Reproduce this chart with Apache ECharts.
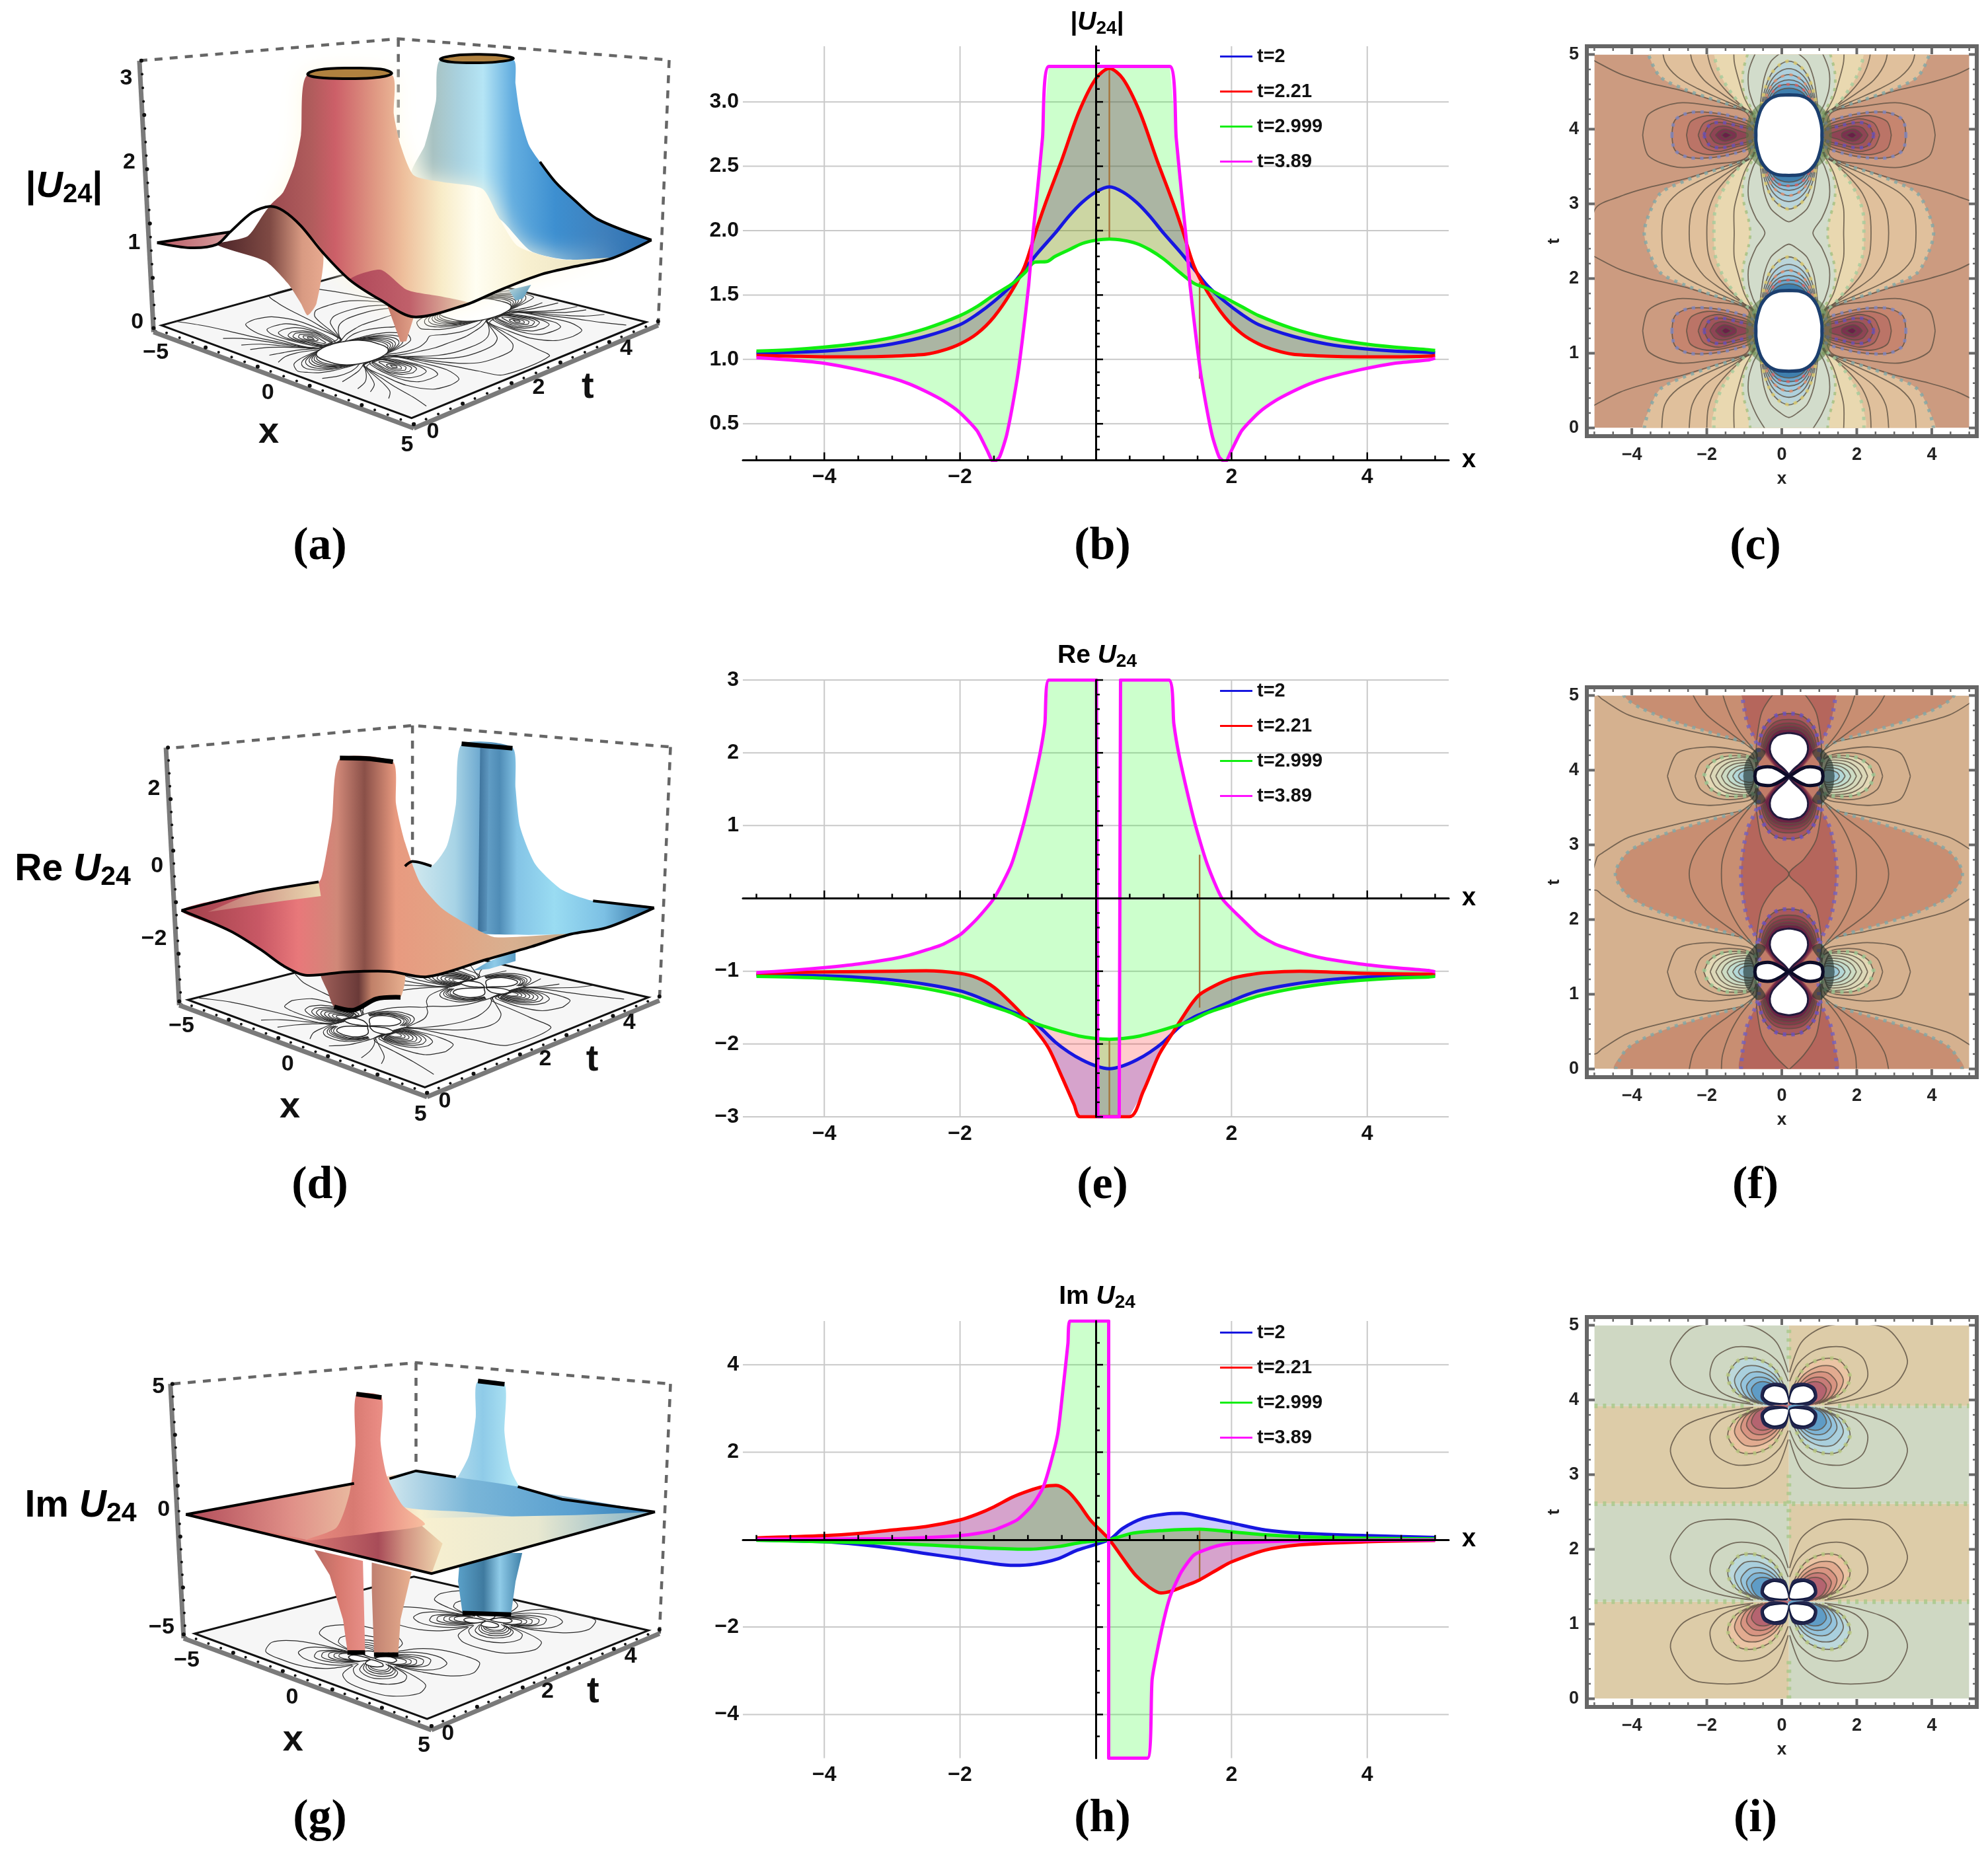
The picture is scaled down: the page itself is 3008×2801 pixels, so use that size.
<!DOCTYPE html>
<html><head><meta charset="utf-8"><style>html,body{margin:0;padding:0;background:#fff}#c{width:3008px;height:2801px}</style>
<script src="https://cdn.jsdelivr.net/npm/echarts@6/dist/echarts.min.js"></script></head><body><div id="c"></div>
<script>
// ---------- line-profile panels (x, value) ----------
const seriesNames=['t=2','t=2.21','t=2.999','t=3.89'];
const seriesColors=['#1717e0','#ff0000','#10ee10','#ff10ff'];
const xMajorLabels=[-4,-2,2,4];
const xMinorTicks=[-5,-4.5,-4,-3.5,-3,-2.5,-2,-1.5,-1,-.5,.5,1,1.5,2,2.5,3,3.5,4,4.5,5];

const bBlue=[[-5,1.05],[-4.5,1.055],[-4,1.065],[-3.5,1.085],[-3,1.12],[-2.5,1.18],[-2,1.27],[-1.75,1.35],[-1.5,1.45],[-1.25,1.57],[-1.05,1.7],[-.85,1.83],[-.6,1.98],[-.4,2.11],[-.2,2.22],[0,2.3],[.2,2.34],[.4,2.3],[.6,2.22],[.8,2.11],[1,1.98],[1.25,1.83],[1.45,1.7],[1.65,1.57],[1.9,1.45],[2.15,1.35],[2.4,1.27],[2.9,1.18],[3.4,1.12],[3.9,1.085],[4.4,1.065],[4.9,1.055],[5,1.05]];
const bRed=[[-5,1.03],[-4.5,1.025],[-4,1.02],[-3.5,1.02],[-3,1.025],[-2.5,1.04],[-2.25,1.07],[-2,1.12],[-1.75,1.2],[-1.5,1.33],[-1.25,1.52],[-1.05,1.72],[-.88,2.0],[-.75,2.2],[-.5,2.55],[-.25,2.92],[0,3.18],[.2,3.26],[.4,3.18],[.65,2.92],[.9,2.55],[1.15,2.2],[1.28,2.0],[1.45,1.72],[1.65,1.52],[1.9,1.33],[2.15,1.2],[2.4,1.12],[2.65,1.07],[2.9,1.04],[3.4,1.025],[3.9,1.02],[4.4,1.02],[4.9,1.025],[5,1.03]];
const bGreen=[[-5,1.065],[-4.5,1.075],[-4,1.095],[-3.5,1.125],[-3,1.17],[-2.5,1.24],[-2,1.34],[-1.75,1.41],[-1.5,1.5],[-1.25,1.58],[-1.05,1.67],[-.9,1.755],[-.72,1.76],[-.6,1.8],[-.4,1.85],[-.2,1.9],[0,1.925],[.2,1.935],[.4,1.925],[.6,1.9],[.8,1.85],[1,1.78],[1.25,1.67],[1.45,1.59],[1.65,1.55],[1.9,1.48],[2.15,1.41],[2.4,1.34],[2.9,1.24],[3.4,1.17],[3.9,1.125],[4.4,1.095],[4.9,1.075],[5,1.07]];
const bMagenta=[[-5,1.013],[-4.5,.995],[-4,.97],[-3.5,.92],[-3,.855],[-2.75,.81],[-2.5,.75],[-2.25,.68],[-2,.586],[-1.75,.446],[-1.6,.293],[-1.507,.203],[-1.42,.24],[-1.31,.42],[-1.157,.855],[-1.08,1.16],[-.99,1.57],[-.93,1.95],[-.86,2.31],[-.785,2.72],[-.69,3.275],[1.09,3.275],[1.185,2.72],[1.26,2.31],[1.33,1.95],[1.39,1.57],[1.48,1.16],[1.557,.855],[1.71,.42],[1.82,.24],[1.907,.203],[2,.293],[2.15,.446],[2.4,.586],[2.65,.68],[2.9,.75],[3.15,.81],[3.4,.855],[3.9,.92],[4.4,.97],[4.9,.995],[5,1.01]];
const bBrown=[[[-.69,3.275],[1.09,3.275]],[[.2,3.26],[.2,1.935]],[[1.53,.85],[1.53,1.6]]];

const eBlue=[[-5,-1.05],[-4.5,-1.055],[-4,-1.065],[-3.5,-1.085],[-3,-1.12],[-2.5,-1.18],[-2,-1.27],[-1.75,-1.35],[-1.5,-1.45],[-1.25,-1.55],[-1.05,-1.63],[-.85,-1.75],[-.6,-1.97],[-.4,-2.11],[-.2,-2.22],[0,-2.3],[.2,-2.34],[.4,-2.3],[.6,-2.22],[.8,-2.11],[1,-1.97],[1.25,-1.75],[1.45,-1.63],[1.65,-1.55],[1.9,-1.45],[2.15,-1.35],[2.4,-1.27],[2.9,-1.18],[3.4,-1.12],[3.9,-1.085],[4.4,-1.065],[5,-1.05]];
const eRed=[[-5,-1.04],[-4.5,-1.02],[-4,-1.01],[-3,-1],[-2.5,-.995],[-2,-1.03],[-1.75,-1.09],[-1.5,-1.22],[-1.23,-1.45],[-1,-1.68],[-.785,-1.93],[-.67,-2.1],[-.49,-2.47],[-.32,-2.83],[-.23,-3],[.495,-3],[.7,-2.65],[.93,-2.15],[1.11,-1.88],[1.26,-1.66],[1.41,-1.45],[1.53,-1.32],[1.75,-1.2],[2,-1.1],[2.25,-1.05],[2.5,-1.02],[3,-1],[4,-1.03],[5,-1.04]];
const eGreen=[[-5,-1.07],[-4.5,-1.08],[-4,-1.095],[-3.5,-1.125],[-3,-1.17],[-2.5,-1.24],[-2,-1.34],[-1.5,-1.49],[-1.25,-1.57],[-1,-1.68],[-.75,-1.76],[-.5,-1.83],[-.25,-1.89],[0,-1.925],[.2,-1.935],[.4,-1.925],[.65,-1.89],[.9,-1.83],[1.15,-1.76],[1.4,-1.68],[1.65,-1.57],[1.9,-1.49],[2.4,-1.34],[2.9,-1.24],[3.4,-1.17],[3.9,-1.125],[4.4,-1.095],[4.9,-1.08],[5,-1.07]];
const eMagenta=[[-5,-1.02],[-4.5,-.99],[-4,-.95],[-3.5,-.9],[-3,-.83],[-2.75,-.78],[-2.5,-.71],[-2.25,-.63],[-2,-.5],[-1.75,-.28],[-1.5,0],[-1.25,.45],[-1.07,1],[-.95,1.45],[-.82,2],[-.75,2.4],[-.69,3],[.01,3],[.03,-3],[.345,-3],[.365,3],[1.075,3],[1.15,2.4],[1.22,2],[1.35,1.45],[1.47,1],[1.65,.45],[1.86,0],[2.15,-.28],[2.4,-.5],[2.65,-.63],[2.9,-.71],[3.15,-.78],[3.4,-.83],[3.9,-.9],[4.4,-.95],[4.9,-.99],[5,-1.01]];
const eBrown=[[[-.69,3],[.01,3]],[[.365,3],[1.075,3]],[[.03,-3],[.345,-3]],[[.2,-1.935],[.2,-3]],[[1.53,.6],[1.53,-1.5]]];

const hBlue=[[-5,-.01],[-4,-.05],[-3.5,-.11],[-3,-.2],[-2.5,-.32],[-2,-.43],[-1.5,-.55],[-1.2,-.59],[-.9,-.56],[-.56,-.44],[-.27,-.24],[.2,0],[.4,.26],[.7,.49],[1,.58],[1.26,.6],[1.53,.53],[2,.38],[2.5,.22],[3,.15],[4,.09],[5,.05]];
const hRed=[[-5,.04],[-4,.09],[-3.5,.14],[-3,.22],[-2.5,.3],[-2,.45],[-1.75,.58],[-1.5,.75],[-1.23,.97],[-1,1.11],[-.785,1.21],[-.585,1.24],[-.415,1.11],[-.26,.84],[-.08,.45],[.2,0],[.4,-.43],[.59,-.82],[.78,-1.08],[.96,-1.22],[1.11,-1.18],[1.33,-1.05],[1.53,-.92],[1.82,-.66],[2,-.51],[2.5,-.24],[3,-.12],[4,-.05],[5,-.02]];
const hGreen=[[-5,-.015],[-4,-.05],[-3,-.085],[-2,-.16],[-1.5,-.2],[-1,-.22],[-.56,-.16],[-.19,-.06],[.2,0],[.55,.15],[1,.21],[1.53,.24],[2,.18],[2.5,.11],[3,.07],[4,.03],[5,.015]];
const hMagenta=[[-5,.01],[-4,.012],[-3,.02],[-2.5,.045],[-2,.09],[-1.75,.14],[-1.5,.22],[-1.16,.45],[-.93,.8],[-.78,1.18],[-.67,1.72],[-.56,2.42],[-.49,3.34],[-.41,4.49],[-.38,5],[.19,5],[.19,-5],[.76,-5],[.83,-3.2],[.92,-2.43],[1.03,-1.66],[1.11,-1.24],[1.26,-.74],[1.45,-.35],[1.75,-.16],[2,-.085],[2.5,-.05],[3,-.03],[4,-.015],[5,-.01]];
const hBrown=[[[-.38,5],[.19,5]],[[.19,-5],[.76,-5]],[[1.53,.24],[1.53,-.92]]];

// ---------- contour panels: hand-read level curves, u=|x-x0|, v=|t-mid|, dv=|t-tc| ----------
const x0=.19, mid=2.61, centres=[1.3,3.92];
const tickMajorT=[0,1,2,3,4,5];
const cStrip={A:[[3.86,0],[3.74,.24],[3.43,.53],[2.81,.69],[2.04,.83],[1.42,.93],[.95,1.05]],
 L0:[[5.3,.28],[5.17,.32],[4.5,.49],[3.74,.61],[2.81,.72],[2.04,.84],[1.42,.94],[.95,1.06]],
 B:[[3.39,0],[3.31,.32],[2.97,.53],[2.42,.69],[1.8,.83],[1.26,.95],[.95,1.05]],
 C:[[2.66,0],[2.58,.32],[2.27,.57],[1.8,.75],[1.26,.93],[.93,1.05]],
 D:[[2.19,0],[2.15,.28],[1.96,.53],[1.65,.73],[1.19,.95],[.92,1.06]],
 E:[[2,0],[1.975,.28],[1.8,.53],[1.53,.75],[1.15,.98],[.92,1.07]],
 F:[[1.46,0],[1.46,.32],[1.34,.57],[1.19,.81],[.99,1],[.9,1.07]],
 G:[[1.03,0],[1.07,.16],[1.22,.45],[1.22,.69],[1.07,.89],[.88,1.06]],
 H:[[.64,0],[.88,.2],[1.07,.45],[1.07,.69],[.95,.89],[.81,1.04]]};
const cArcs=[[[0,.15],[.25,.22],[.49,.33],[.66,.55],[.74,.8],[.78,1]],
 [[0,.32],[.25,.37],[.47,.49],[.63,.68],[.72,.88],[.76,1.02]],
 [[0,.42],[.25,.46],[.45,.56],[.6,.72],[.7,.9],[.74,1.02]],
 [[0,.5],[.25,.54],[.43,.62],[.58,.76],[.68,.93],[.72,1.02]],
 [[0,.57],[.25,.6],[.42,.67],[.56,.79],[.66,.94],[.7,1.02]],
 [[0,.63],[.25,.65],[.4,.71],[.54,.82],[.64,.95]],
 [[0,.68],[.22,.7],[.38,.75],[.5,.84],[.6,.96]]];
const cArcFill=[null,'#bbd5da','#aed0dd','#9fcbe0','#8fc0dd','#6aa5cc','#3f7fae'];
const cLobes=[[[3.9,0],[3.74,.28],[2.97,.43],[2.04,.39],[1.1,.28]],
 [[3.12,0],[3.04,.2],[2.66,.3],[2.04,.3],[1.42,.24],[.95,.14]],
 [[2.73,0],[2.62,.18],[2.19,.26],[1.57,.22],[1.03,.12]],
 [[2.42,0],[2.27,.16],[1.88,.22],[1.42,.16],[.95,.08]],
 [[2.27,0],[2.11,.14],[1.8,.17],[1.34,.12],[.95,.06]],
 [[2.11,0],[1.96,.1],[1.69,.12],[1.34,.06],[1.1,.02]],
 [[1.96,0],[1.84,.06],[1.69,.08],[1.42,.03]],
 [[1.8,0],[1.69,.04],[1.53,0]]];
const cLobeFill=[null,'#c6856f','#bb7467','#ae6360','#a0555b','#8f4455','#7c3150','#6a1f48'];
const cHole=[[0,.54],[.3,.53],[.55,.47],[.74,.35],[.84,.2],[.88,.08],[.88,0]];

const fStrip={outer:[[5.3,.2],[5.12,.22],[4.98,.28],[4.28,.49],[3.12,.65],[2.04,.77],[1.1,.87],[.85,.98]],
 R1:[[4.63,0],[4.36,.26],[3.9,.41],[3.12,.57],[2.19,.71],[1.26,.85],[.88,.97]],
 in1:[[2.66,0],[2.54,.24],[2.19,.49],[1.57,.73],[1.03,.93],[.85,1.02]],
 in2:[[1.8,0],[1.77,.2],[1.57,.49],[1.3,.73],[.95,.95],[.85,1.02]],
 R2:[[1.28,0],[1.22,.32],[1.1,.61],[.88,.85],[.8,1]],
 X:[[0,0],[.4,.2],[.72,.45],[.84,.75],[.87,.93]]};
const fArcs=[[[0,.47],[.3,.49],[.55,.58],[.72,.72],[.8,.9]],
 [[0,.55],[.3,.57],[.5,.64],[.66,.76],[.74,.92]],
 [[0,.6],[.28,.62],[.48,.68],[.62,.79],[.7,.93]],
 [[0,.64],[.26,.66],[.46,.71],[.6,.81],[.68,.94]],
 [[0,.68],[.25,.69],[.42,.74],[.56,.84],[.64,.95]]];
const fArcFill=['#a85a5c','#944650','#863a4a','#7a3048','#6a2444'];
const fLobes=[[[3.24,0],[2.97,.31],[2.19,.39],[1.5,.36],[.95,.28]],
 [[2.5,0],[2.35,.18],[1.88,.3],[1.26,.3],[.95,.22]],
 [[2.27,0],[2.11,.16],[1.73,.26],[1.1,.26],[.9,.2]],
 [[2.1,0],[1.95,.14],[1.6,.23],[1.05,.22]],
 [[1.95,0],[1.8,.12],[1.5,.2],[1.02,.19]],
 [[1.8,0],[1.68,.1],[1.4,.17],[1,.16]],
 [[1.65,0],[1.55,.08],[1.3,.14],[.98,.13]],
 [[1.5,0],[1.4,.07],[1.2,.11],[.96,.1]],
 [[1.35,0],[1.28,.05],[1.1,.08],[.95,.07]]];
const fLobeFill=[null,null,'#e3d8b5','#dcd8b8','#d6dabc','#cddcc4','#c2dcce','#b4d8d8','#9cc8d8'];
const fHaze=[[1.22,0],[1.16,.18],[1,.3],[.82,.38],[.62,.32],[.85,.14],[.95,0]];
const fPetalV=[[0,.02],[.12,.09],[.3,.17],[.45,.26],[.51,.36],[.47,.46],[.33,.54],[.15,.57],[0,.58]];
const fPetalH=[[.03,0],[.2,.06],[.45,.12],[.7,.12],[.87,.08],[.91,0]];

const iRows=[[0,1.3],[1.3,2.61],[2.61,3.92],[3.92,5]];
const iRings=[[[.02,.45],[.33,.85],[.95,1.06],[1.88,1.1],[2.66,1.02],[3.16,.61],[2.81,.28],[1.88,.1],[.95,.02]],
 [[.02,.33],[.25,.57],[.72,.75],[1.42,.79],[1.96,.65],[2.1,.39],[1.8,.18],[1.03,.04]],
 [[.1,.24],[.41,.51],[.88,.63],[1.34,.61],[1.63,.39],[1.42,.18],[.88,.04]],
 [[.1,.2],[.4,.42],[.8,.53],[1.2,.52],[1.45,.35],[1.28,.16],[.8,.03]],
 [[.12,.17],[.4,.36],[.72,.45],[1.05,.44],[1.28,.3],[1.14,.13],[.75,.03]],
 [[.14,.14],[.38,.3],[.66,.38],[.95,.37],[1.13,.26],[1,.11],[.7,.02]],
 [[.15,.12],[.37,.26],[.6,.32],[.85,.31],[1,.22],[.88,.09],[.6,.02]]];
const iBlueFill=[null,null,'#bcd8db','#a9cfdd','#95c4dd','#7fb5d6','#5f9cc6'];
const iOrangeFill=[null,null,'#ebc4a4','#e2ab90','#d89482','#c87c78','#b56470'];
const iHaze=[[.02,.03],[.5,0],[.75,.1],[.69,.25],[.42,.31],[.12,.29],[.02,.18]];
const iPetal=[[.03,.04],[.5,.05],[.68,.12],[.62,.22],[.4,.27],[.15,.24],[.04,.15]];
const iDotV=[[0,.55],[2.15,3.05],[4.55,5]];
const iDotH=[[1.3,-5,-1.0],[1.3,1.5,5],[2.61,-5,5],[3.92,-5,-1.0],[3.92,1.5,5]];

// ---------- 3-D panels: picture-space outlines (panel scale 0..1568 on each side) ----------
const G=(...s)=>({stops:s});
const panelA={crop:[0,800],
 dashed:[[[315,180],[900,115],[1512,178]],[[900,115],[900,420]],[[1512,178],[1487,965]]],
 axes:[[[315,180],[347,985]],[[347,985],[935,1270]],[[935,1270],[1487,965]]],
 floor:[[365,965],[930,1240],[1460,955],[895,772]],
 polys:[
 {p:[[1150,860],[1165,892],[1182,885],[1200,845]],f:G([0,'#7fb6d0'],[1,'#4f93b8'])},
 {p:[[995,178],[1160,178],[1165,250],[1175,340],[1195,430],[1220,480],[1255,540],[1295,590],[1350,650],[1400,680],[1472,712],[1390,762],[1280,770],[1200,745],[1130,650],[1050,600],[930,520],[960,430],[985,300]],f:G([0,'#dfe9e0'],[.09,'#a8c2c2'],[.2,'#a9d2e0'],[.3,'#b5e5f5'],[.42,'#64aee0'],[.6,'#3d8fd0'],[.8,'#3f80bc'],[1,'#2c6fb0'])},
 {p:[[610,612],[640,570],[665,490],[680,400],[695,222],[885,222],[890,340],[905,430],[935,520],[1000,540],[1090,560],[1125,640],[1170,730],[1270,770],[1385,765],[1300,790],[1220,815],[1130,860],[1050,905],[935,940],[860,890],[790,830],[730,750],[680,670],[640,625]],f:G([0,'#9b4a50'],[.12,'#b05c5c'],[.19,'#cc5f68'],[.31,'#e09a84'],[.39,'#eebf9c'],[.5,'#f8ecc8'],[.6,'#fffef2'],[.75,'#f8f0d0'],[1,'#e8e0c0']),blur:34,shadow:'rgba(255,250,228,.95)'},
 {p:[[790,830],[860,800],[920,860],[1000,880],[1060,900],[935,940],[860,890]],f:G([0,'#b0485a'],[.5,'#c0606a'],[1,'#e8d0b0'])},
 {p:[[490,725],[560,700],[610,612],[640,625],[680,670],[730,750],[715,900],[695,935],[680,900],[650,840],[600,775]],f:G([0,'#4c2428'],[.5,'#7f4a44'],[.8,'#d89a82'],[1,'#e8aa90'])},
 {p:[[355,720],[430,705],[520,688],[490,725],[430,735]],f:G([0,'#b85a64'],[1,'#d8a0a0'])},
 {p:[[875,905],[905,1015],[918,1012],[935,940]],f:G([0,'#c47868'],[1,'#e0a088'])}],
 caps:[[[695,220],[720,207],[790,202],[860,205],[885,218],[850,230],[790,233],[720,230]],[[995,175],[1030,164],[1080,161],[1130,164],[1160,174],[1120,184],[1070,186],[1020,184]]],
 edges:[[[355,720],[430,735],[490,725],[520,688],[570,630],[610,612],[640,625],[680,670],[730,750],[790,830],[860,890],[935,940],[1050,905],[1130,860],[1220,815],[1300,790],[1385,765],[1472,712]],[[355,720],[430,705],[520,688]],[[1472,712],[1350,650],[1295,590],[1255,540],[1220,480]]],
 edgeSmooth:.3,
 texts:[['3',285,232,34],['2',292,482,34],['1',303,720,34],['0',310,955,34],['−5',352,1045,34],['0',605,1165,34],['5',920,1320,34],['0',978,1282,34],['2',1217,1150,34],['4',1415,1035,34],['x',607,1282,56],['t',1328,1150,56]]};
const panelD={crop:[1050,750],
 dashed:[[[398,170],[932,100],[1515,168]],[[932,100],[932,530]],[[1515,168],[1490,970]]],
 axes:[[[375,170],[405,985]],[[405,985],[965,1275]],[[965,1275],[1490,970]]],
 floor:[[425,968],[960,1245],[1465,960],[925,790]],
 polys:[
 {p:[[1100,850],[1165,810],[1165,845],[1105,870],[1070,875]],f:G([0,'#5a9cc4'],[.5,'#8fcbe8'],[1,'#5a9cc4'])},
 {p:[[1043,160],[1158,170],[1165,300],[1175,420],[1210,540],[1270,620],[1340,655],[1478,677],[1370,740],[1290,760],[1100,760],[1030,740],[960,680],[915,545],[932,530],[975,545],[1010,480],[1030,350]],f:G([0,'#d8ecf0'],[.2,'#a8d4e6'],[.3,'#6faad0'],[.38,'#4f8cb6'],[.45,'#84c4e6'],[.6,'#9adcf2'],[.8,'#7cc0e4'],[1,'#2f6f9f'])},
 {p:[[1085,170],[1105,170],[1100,750],[1080,755]],f:G([0,'#3a6f98'],[1,'#5f98c0'])},
 {p:[[725,885],[780,880],[880,878],[915,890],[905,960],[880,955],[850,965],[800,1000],[755,990],[740,940]],f:G([0,'#a0605a'],[.45,'#6a3a38'],[.6,'#c08068'],[1,'#e8b090'])},
 {p:[[410,685],[570,630],[720,595],[730,560],[750,400],[768,205],[888,215],[895,350],[915,470],[950,600],[1000,680],[1070,740],[1120,770],[1290,760],[1200,800],[1100,840],[965,895],[880,878],[780,880],[690,890],[640,860],[590,810],[520,750]],f:G([0,'#a0404a'],[.2,'#c85865'],[.3,'#e8787a'],[.4,'#d08878'],[.47,'#8a5048'],[.55,'#e89a80'],[.7,'#e2a585'],[.85,'#d8b090'],[1,'#c4a888'])},
 {p:[[470,690],[570,630],[720,595],[725,640],[640,655]],f:G([0,'#c07070'],[1,'#ead8b0'])}],
 caps:[],
 edges:[[[410,685],[520,750],[590,810],[640,860],[690,890],[780,880],[880,878],[965,895],[1100,840],[1200,800],[1290,760],[1370,740],[1478,677]],[[410,685],[570,630],[720,595]],[[1478,677],[1340,655]],[[915,545],[932,530],[975,545]]],
 edgeSmooth:.3,
 thick:[[[768,203],[830,205],[888,215]],[[1043,158],[1100,165],[1158,172]],[[755,990],[800,1000],[850,965],[905,960]]],
 texts:[['2',348,300,34],['0',355,545,34],['−2',348,775,34],['−5',410,1050,34],['0',650,1172,34],['5',950,1330,34],['0',1005,1290,34],['2',1232,1155,34],['4',1422,1040,34],['x',655,1307,56],['t',1338,1160,56]]};
const panelG={crop:[2020,750],
 dashed:[[[390,155],[940,88],[1515,155]],[[940,88],[940,410]],[[1515,155],[1490,945]]],
 axes:[[[385,155],[415,960]],[[415,960],[975,1250]],[[975,1250],[1490,945]]],
 floor:[[440,945],[965,1215],[1465,935],[935,765]],
 polys:[
 {p:[[710,680],[820,715],[825,1005],[785,1000],[775,900],[745,760]],f:G([0,'#b86a62'],[.5,'#d87a70'],[1,'#e89088'])},
 {p:[[840,720],[930,750],[905,900],[900,1005],[845,1005],[840,800]],f:G([0,'#c08070'],[1,'#e8b090'])},
 {p:[[1040,690],[1180,690],[1165,780],[1155,880],[1045,880],[1035,780]],f:G([0,'#5aa0c8'],[.4,'#3f7a9f'],[.65,'#8fcbe8'],[1,'#3f80a8'])},
 {p:[[1078,150],[1140,155],[1140,310],[1155,430],[1190,510],[1260,560],[980,550],[1030,460],[1060,380],[1075,260]],f:G([0,'#c8e4ee'],[.4,'#8fcbe8'],[.7,'#b8ecf8'],[1,'#5aa6d8'])},
 {p:[[420,568],[940,430],[1480,560],[975,755]],f:G([0,'#c85a62'],[.35,'#e8a890'],[.5,'#f8f0d0'],[.7,'#b8d4dc'],[1,'#3f80b8'])},
 {p:[[880,455],[940,430],[1030,450],[1170,480],[1270,520],[1480,560],[1300,590],[1050,560],[900,540]],f:G([0,'#cfe6ee'],[.3,'#7ab6d8'],[.7,'#5aa0d0'],[1,'#2f7ab5'])},
 {p:[[420,568],[800,470],[900,540],[700,650]],f:G([0,'#b04a58'],[.5,'#e09088'],[1,'#f0d8b0'])},
 {p:[[950,580],[1300,570],[1480,560],[975,755]],f:G([0,'#f8f0d0'],[.5,'#e8e8d0'],[1,'#7fb0c8'])},
 {p:[[420,568],[700,650],[950,600],[1000,660],[975,755]],f:G([0,'#c85a62'],[.4,'#e08078'],[.75,'#a84c58'],[.85,'#d09080'],[1,'#f0d8b0'])},
 {p:[[690,650],[760,610],[790,500],[803,350],[805,190],[862,195],[860,340],[875,450],[910,540],[960,600],[850,625]],f:G([0,'#e88a80'],[.4,'#d87a72'],[.6,'#e88a82'],[1,'#f8c0a0'])}],
 caps:[],
 edges:[[[420,568],[975,755],[1480,560]],[[420,568],[800,470]],[[880,455],[940,430],[1030,450]],[[1170,480],[1270,520],[1480,560]]],
 edgeSmooth:0,
 thick:[[[805,187],[862,198]],[[1080,146],[1140,156]],[[785,1005],[825,1005]],[[845,1012],[900,1012]],[[1045,880],[1155,885]]],
 texts:[['5',358,165,34],['0',370,553,34],['−5',365,925,34],['−5',422,1030,34],['0',660,1148,34],['5',958,1300,34],['0',1012,1262,34],['2',1237,1128,34],['4',1425,1018,34],['x',662,1282,56],['t',1340,1130,56]]};

// ---------- helpers ----------
const FONT='"Liberation Sans",Arial,sans-serif';
const thin={stroke:'#5d5042',lw:1.8,alpha:.8};
const dots=(c,lw)=>({stroke:c,lw:lw||5,dash:[5,8],alpha:.8});
function stripPaths(oct){
 const half=oct.concat(oct.slice().reverse().map(([u,v])=>[u,2.62-v]));
 const lower=half.map(([u,v])=>[x0-u,mid-v]).reverse();
 const upper=half.map(([u,v])=>[x0-u,mid+v]).slice(1);
 const left=lower.concat(upper), right=left.map(([x,t])=>[2*x0-x,t]);
 return {left,right,poly:left.concat(right.slice().reverse())};
}
function addStrip(L,oct,fill,style){const s=stripPaths(oct);
 if(fill)L.push({k:'poly',pts:s.poly,fill});
 if(style){L.push(Object.assign({k:'line',pts:s.left},style));L.push(Object.assign({k:'line',pts:s.right},style));}}
function addArc(L,arc,fill,style){
 [v=>mid-v,v=>mid+v,v=>v-.01,v=>5.23-v].forEach((T,idx)=>{
  const tcen=(idx==0||idx==2)?centres[0]:centres[1];
  const path=arc.slice().reverse().map(([u,v])=>[x0-u,T(v)]).concat(arc.slice(1).map(([u,v])=>[x0+u,T(v)]));
  if(fill)L.push({k:'poly',pts:path.concat([[x0,tcen]]),fill});
  if(style)L.push(Object.assign({k:'line',pts:path},style));});}
function addLobe(L,lobe,fill,style){
 centres.forEach(tc=>[-1,1].forEach(sgn=>{
  const top=lobe.map(([u,d])=>[x0+sgn*u,tc+d]), bot=lobe.map(([u,d])=>[x0+sgn*u,tc-d]).reverse();
  const closed=top.concat(bot);
  if(fill)L.push({k:'poly',pts:closed,fill});
  if(style)L.push(Object.assign({k:'line',pts:closed},style));}));}
function addHole(L,q,stroke,lw){
 centres.forEach(tc=>{
  const a=q.map(([u,d])=>[x0+u,tc+d]), b=q.slice().reverse().map(([u,d])=>[x0+u,tc-d]),
        c=q.map(([u,d])=>[x0-u,tc-d]), e=q.slice().reverse().map(([u,d])=>[x0-u,tc+d]);
  L.push({k:'poly',pts:a.concat(b,c,e),fill:'#fff',stroke,lw,hole:true});});}
function addPetalV(L,q,stroke,lw){centres.forEach(tc=>[1,-1].forEach(sv=>{
  L.push({k:'poly',pts:q.map(([u,d])=>[x0+u,tc+sv*d]).concat(q.slice().reverse().map(([u,d])=>[x0-u,tc+sv*d])),fill:'#fff',stroke,lw,hole:true});}));}
function addPetalH(L,q,stroke,lw){centres.forEach(tc=>[1,-1].forEach(su=>{
  L.push({k:'poly',pts:q.map(([u,d])=>[x0+su*u,tc+d]).concat(q.slice().reverse().map(([u,d])=>[x0+su*u,tc-d])),fill:'#fff',stroke,lw,hole:true});}));}

// ---------- build contour element lists ----------
const cEl=[],fEl=[],iEl=[];
cEl.push({k:'poly',pts:[[-5,0],[5,0],[5,5],[-5,5]],fill:'#cc9b80'});
addStrip(cEl,cStrip.L0,null,thin);
addStrip(cEl,cStrip.A,'#e0c09c',null);
addStrip(cEl,cStrip.E,'#e9d8b0',null);
addStrip(cEl,cStrip.G,'#d2dccb',null);
addStrip(cEl,cStrip.A,null,dots('#7fa8a8'));
['B','C','D','F','H'].forEach(k=>addStrip(cEl,cStrip[k],null,thin));
addStrip(cEl,cStrip.E,null,dots('#a4cc9c'));
addStrip(cEl,cStrip.G,null,dots('#a4c080',4));
cArcs.forEach((a,i)=>addArc(cEl,a,cArcFill[i],thin));
addArc(cEl,cArcs[1],null,dots('#dccc70'));addArc(cEl,cArcs[3],null,dots('#e09070',4));addArc(cEl,cArcs[5],null,dots('#d86060',4));
cLobes.forEach((l,i)=>addLobe(cEl,l,cLobeFill[i],thin));
addLobe(cEl,cLobes[1],null,dots('#7f86c0'));addLobe(cEl,cLobes[4],null,dots('#6a50b8'));
addLobe(cEl,[[1.15,0],[1.1,.2],[.95,.34],[.7,.42]],'rgba(90,120,70,.55)',null);
addHole(cEl,cHole,'#1c3f6e',5);

fEl.push({k:'poly',pts:[[-5,0],[5,0],[5,5],[-5,5]],fill:'#d5b18f'});
addStrip(fEl,fStrip.outer,null,thin);
addStrip(fEl,fStrip.R1,'#c88e72',null);
addStrip(fEl,fStrip.R2,'#b5665c',null);
addStrip(fEl,fStrip.X,'#c17c68',null);
addStrip(fEl,fStrip.R1,null,dots('#7fa8a8'));
['in1','in2','X'].forEach(k=>addStrip(fEl,fStrip[k],null,thin));
addStrip(fEl,fStrip.R2,null,dots('#7260c0',6));
fArcs.forEach((a,i)=>addArc(fEl,a,fArcFill[i],thin));
addArc(fEl,fArcs[0],null,dots('#6a50c0',6));
fLobes.forEach((l,i)=>addLobe(fEl,l,fLobeFill[i],thin));
addLobe(fEl,fLobes[2],null,dots('#9cc894',6));
addLobe(fEl,fHaze,'rgba(30,45,40,.6)',null);
addPetalV(fEl,fPetalV,'#221a3c',3);
addPetalH(fEl,fPetalH,'#0c0c28',5);

iRows.forEach(([a,b],r)=>{const lf=r%2?'#cfd8c3':'#ddcca8',rg=r%2?'#ddcca8':'#cfd8c3';
 iEl.push({k:'poly',pts:[[-5,a],[x0,a],[x0,b],[-5,b]],fill:lf});iEl.push({k:'poly',pts:[[x0,a],[5,a],[5,b],[x0,b]],fill:rg});});
const iDot=dots('#a8c888',7);
iDotV.forEach(([a,b])=>iEl.push(Object.assign({k:'line',pts:[[x0,a],[x0,b]]},iDot)));
iDotH.forEach(([t,a,b])=>iEl.push(Object.assign({k:'line',pts:[[a,t],[b,t]]},iDot)));
centres.forEach(tc=>[[-1,1],[1,1],[-1,-1],[1,-1]].forEach(([su,sv])=>{
 const isBlue=su*sv<0;
 iRings.forEach((ring,i)=>{
  const pts=ring.map(([u,d])=>[x0+su*u,tc+sv*d]);
  const fill=(isBlue?iBlueFill:iOrangeFill)[i];
  if(fill)iEl.push({k:'poly',pts:pts.concat([[x0,tc]]),fill});
  iEl.push(Object.assign({k:'line',pts},thin));
  if(i==2)iEl.push(Object.assign({k:'line',pts},dots('#b8c880',6)));
 });
 iEl.push({k:'poly',pts:iHaze.map(([u,d])=>[x0+su*u,tc+sv*d]),fill:'#23264e'});
 iEl.push({k:'poly',pts:iPetal.map(([u,d])=>[x0+su*u,tc+sv*d]),fill:'#fff',stroke:'#121a40',lw:2,hole:true});
}));

// ---------- option assembly ----------
const grids=[],xAxes=[],yAxes=[],series=[],legends=[],titles=[];
function lg(stops){return new echarts.graphic.LinearGradient(0,0,1,0,stops.map(([o,c])=>({offset:o,color:c})));}
function elem(api,e){
 const P=e.pts.map(p=>api.coord(p));
 const sm=P.length>5?.3:0;
 if(e.k==='poly')return {type:'polygon',shape:{points:P,smooth:sm},style:{fill:e.fill,stroke:e.stroke||null,lineWidth:e.lw||0}};
 return {type:'polyline',shape:{points:P,smooth:sm},style:{fill:null,stroke:e.stroke,lineWidth:e.lw,lineDash:e.dash||null,opacity:e.alpha==null?1:e.alpha}};
}
function add2D(idx,geom,ymin,ymax,yLabels,yGrid,yMinor,curves,brown,legendTop,digits){
 grids.push({left:1124,width:1068,top:geom.top,height:geom.h});
 xAxes.push({type:'value',gridIndex:idx,min:-5.2,max:5.2,z:5,name:'x',nameLocation:'end',nameGap:20,nameTextStyle:{fontFamily:FONT,fontWeight:'bold',fontSize:38,color:'#000'},
  axisLine:{show:true,onZero:true,lineStyle:{color:'#000',width:3}},axisTick:{show:false},splitLine:{show:false},
  axisLabel:{customValues:xMajorLabels,margin:10,fontFamily:FONT,fontWeight:'bold',fontSize:32,color:'#111',formatter:v=>String(v).replace('-','−')}});
 yAxes.push({type:'value',gridIndex:idx,min:ymin,max:ymax,z:5,
  axisLine:{show:true,onZero:true,lineStyle:{color:'#000',width:3}},axisTick:{show:false},splitLine:{show:false},
  axisLabel:{customValues:yLabels,margin:6,fontFamily:FONT,fontWeight:'bold',fontSize:32,color:'#111',formatter:v=>(digits?v.toFixed(1):String(v)).replace('-','−')}});
 series.push({type:'custom',coordinateSystem:'cartesian2d',xAxisIndex:idx,yAxisIndex:idx,silent:true,z:1,data:[[0,0]],
  renderItem:(p,api)=>{const ch=[];const st={stroke:'#c9c9c9',lineWidth:2};
   const L=(a,b,s)=>{const A=api.coord(a),B=api.coord(b);ch.push({type:'line',shape:{x1:A[0],y1:A[1],x2:B[0],y2:B[1]},style:s});};
   xMajorLabels.forEach(x=>L([x,ymin],[x,ymax],st));
   yGrid.forEach(y=>L([-5.2,y],[5.2,y],st));
   return {type:'group',children:ch};}});
 [[0,1,'rgba(0,0,255,.2)'],[1,2,'rgba(255,0,0,.2)'],[2,3,'rgba(0,255,0,.2)']].forEach(([a,b,col])=>{
  series.push({type:'custom',coordinateSystem:'cartesian2d',xAxisIndex:idx,yAxisIndex:idx,silent:true,z:2,clip:true,data:[[0,0]],
   renderItem:(p,api)=>({type:'polygon',shape:{points:curves[a].concat(curves[b].slice().reverse()).map(q=>api.coord(q))},style:{fill:col}})});});
 series.push({type:'custom',coordinateSystem:'cartesian2d',xAxisIndex:idx,yAxisIndex:idx,silent:true,z:3,clip:false,data:[[0,0]],
  renderItem:(p,api)=>({type:'group',children:brown.map(s=>({type:'polyline',shape:{points:s.map(q=>api.coord(q))},style:{fill:null,stroke:'#a5743c',lineWidth:s[0][1]===s[1][1]?4:2.4}}))})});
 curves.forEach((c,i)=>series.push({type:'line',name:seriesNames[i],xAxisIndex:idx,yAxisIndex:idx,data:c,showSymbol:false,symbol:'none',smooth:i===3?.2:.3,z:4,clip:true,
  lineStyle:{color:seriesColors[i],width:5,join:'round'},itemStyle:{color:seriesColors[i]},silent:true}));
 const axisY=ymin>0?ymin:0;
 series.push({type:'custom',coordinateSystem:'cartesian2d',xAxisIndex:idx,yAxisIndex:idx,silent:true,z:6,clip:false,data:[[0,0]],
  renderItem:(p,api)=>{const ch=[];const s={stroke:'#000',lineWidth:2.5};
   xMinorTicks.forEach(x=>{const A=api.coord([x,axisY]);const len=xMajorLabels.includes(x)?12:7;ch.push({type:'line',shape:{x1:A[0],y1:A[1],x2:A[0],y2:A[1]-len},style:s});});
   yMinor.forEach(y=>{const A=api.coord([0,y]);const len=yLabels.includes(y)?11:6;ch.push({type:'line',shape:{x1:A[0],y1:A[1],x2:A[0]+len,y2:A[1]},style:s});});
   return {type:'group',children:ch};}});
 legends.push({data:seriesNames,orient:'vertical',left:1841,top:legendTop,itemWidth:49,itemHeight:26,itemGap:24,selectedMode:false,icon:'path://M0 12H49V15H0Z',
  textStyle:{fontFamily:FONT,fontWeight:'bold',fontSize:29,color:'#111',padding:[0,0,0,2]},
  itemStyle:{borderWidth:0}});
}
function addContour(idx,top,els){
 grids.push({left:2401,width:590,top,height:590,show:false});
 xAxes.push({type:'value',gridIndex:idx,min:-5.2,max:5.2,position:'bottom',name:'x',nameLocation:'middle',nameGap:52,nameTextStyle:{fontFamily:FONT,fontWeight:'bold',fontSize:26,color:'#222'},
  axisLine:{show:false},axisTick:{show:false},splitLine:{show:false},
  axisLabel:{customValues:[-4,-2,0,2,4],margin:15,fontFamily:FONT,fontWeight:'bold',fontSize:27,color:'#222',formatter:v=>String(v).replace('-','−')}});
 yAxes.push({type:'value',gridIndex:idx,min:-.11,max:5.11,position:'left',name:'t',nameLocation:'middle',nameGap:36,nameRotate:90,nameTextStyle:{fontFamily:FONT,fontWeight:'bold',fontSize:26,color:'#222'},
  axisLine:{show:false},axisTick:{show:false},splitLine:{show:false},
  axisLabel:{customValues:tickMajorT,margin:12,fontFamily:FONT,fontWeight:'bold',fontSize:27,color:'#222'}});
 series.push({type:'custom',coordinateSystem:'cartesian2d',xAxisIndex:idx,yAxisIndex:idx,silent:true,z:2,clip:false,data:[[0,0]],
  renderItem:(p,api)=>{
   const a=api.coord([-5,5]),b=api.coord([5,0]);
   const body={type:'group',clipPath:{type:'rect',shape:{x:a[0],y:a[1],width:b[0]-a[0],height:b[1]-a[1]}},children:els.map(e=>elem(api,e))};
   const f0=api.coord([-5.2,5.11]),f1=api.coord([5.2,-.11]);const ch=[body];
   const s={stroke:'#6a6a6a',lineWidth:4},sm={stroke:'#6a6a6a',lineWidth:2.5};
   xMinorTicks.concat([0]).forEach(x=>{const maj=x%2===0;const A=api.coord([x,0]);
    [[f0[1],1],[f1[1],-1]].forEach(([y,d])=>ch.push({type:'line',shape:{x1:A[0],y1:y,x2:A[0],y2:y+d*(maj?12:7)},style:maj?s:sm}));});
   [0,.2,.4,.6,.8,1,1.2,1.4,1.6,1.8,2,2.2,2.4,2.6,2.8,3,3.2,3.4,3.6,3.8,4,4.2,4.4,4.6,4.8,5].forEach(t=>{const maj=Math.abs(t-Math.round(t))<.01;const A=api.coord([0,t]);
    [[f0[0],1],[f1[0],-1]].forEach(([x,d])=>ch.push({type:'line',shape:{x1:x,y1:A[1],x2:x+d*(maj?12:6),y2:A[1]},style:maj?s:sm}));});
   ch.push({type:'rect',shape:{x:f0[0],y:f0[1],width:f1[0]-f0[0],height:f1[1]-f0[1]},style:{fill:null,stroke:'#666',lineWidth:6}});
   return {type:'group',children:ch};}});
}
function add3D(idx,panel,floorEls){
 const [cy,ch]=panel.crop;
 grids.push({left:0,width:1050,top:cy,height:ch,show:false});
 xAxes.push({type:'value',gridIndex:idx,min:0,max:1568,show:false});
 yAxes.push({type:'value',gridIndex:idx,min:0,max:1568,inverse:true,show:false});
 const [L,F,R,B]=panel.floor;
 const map=([x,t])=>{const a=(x+5)/10,b=t/5;return [(1-a)*(1-b)*L[0]+a*(1-b)*F[0]+(1-a)*b*B[0]+a*b*R[0],(1-a)*(1-b)*L[1]+a*(1-b)*F[1]+(1-a)*b*B[1]+a*b*R[1]];};
 const inr=([x,t])=>x>=-5&&x<=5&&t>=0&&t<=5;
 series.push({type:'custom',coordinateSystem:'cartesian2d',xAxisIndex:idx,yAxisIndex:idx,silent:true,z:2,clip:false,data:[[0,0]],
  renderItem:(p,api)=>{const c=q=>api.coord(q);const ch2=[];
   const line=(pts,stroke,lw,dash,sm)=>ch2.push({type:'polyline',shape:{points:pts.map(c),smooth:sm||0},style:{fill:null,stroke,lineWidth:lw,lineDash:dash||null}});
   panel.dashed.forEach(d=>line(d,'#666',4.5,[12,11]));
   ch2.push({type:'polygon',shape:{points:[L,F,R,B].map(c)},style:{fill:'#f6f6f6',stroke:'#111',lineWidth:3}});
   floorEls.forEach(e=>{
    if(e.k==='line'&&!e.dash){const pts=e.pts.filter(inr).map(map);if(pts.length>1)line(pts,'#2a2a2a',1.2,null,.3);}
    else if(e.hole){ch2.push({type:'polygon',shape:{points:e.pts.map(map).map(c),smooth:.3},style:{fill:'#fff',stroke:'#222',lineWidth:1.5}});}
   });
   panel.axes.forEach(a=>{
    line(a,'#7a7a7a',7);
    for(let k=0;k<=20;k++){const f=k/20,P=c([a[0][0]+f*(a[1][0]-a[0][0]),a[0][1]+f*(a[1][1]-a[0][1])]);
     ch2.push({type:'circle',shape:{cx:P[0]+(a===panel.axes[0]?3:0),cy:P[1]-(a===panel.axes[0]?0:6),r:k%4?2:3},style:{fill:'#111'}});}
   });
   panel.polys.forEach(q=>ch2.push({type:'polygon',shape:{points:q.p.map(c),smooth:q.p.length>6?.22:0},style:{fill:lg(q.f.stops),shadowBlur:q.blur||0,shadowColor:q.shadow||'transparent'}}));
   panel.caps.forEach(q=>ch2.push({type:'polygon',shape:{points:q.map(c),smooth:.4},style:{fill:'#b0813f',stroke:'#000',lineWidth:4}}));
   panel.edges.forEach(q=>line(q,'#000',4,null,panel.edgeSmooth));
   (panel.thick||[]).forEach(q=>line(q,'#000',7,null,.3));
   panel.texts.forEach(([s,x,y,size])=>{const P=c([x,y]);ch2.push({type:'text',style:{text:s,x:P[0],y:P[1],fontFamily:FONT,fontWeight:'bold',fontSize:size,fill:'#111',textAlign:'center',textVerticalAlign:'middle'}});});
   return {type:'group',children:ch2};}});
}

add3D(0,panelA,cEl);
add3D(1,panelD,fEl);
add3D(2,panelG,iEl);
const bTicksY=[.3,.4,.5,.6,.7,.8,.9,1,1.1,1.2,1.3,1.4,1.5,1.6,1.7,1.8,1.9,2,2.1,2.2,2.3,2.4,2.5,2.6,2.7,2.8,2.9,3,3.1,3.2,3.3,3.4];
const eTicksY=[-3,-2.8,-2.6,-2.4,-2.2,-2,-1.8,-1.6,-1.4,-1.2,-1,-.8,-.6,-.4,-.2,.2,.4,.6,.8,1,1.2,1.4,1.6,1.8,2,2.2,2.4,2.6,2.8,3];
const hTicksY=[-4.5,-4,-3.5,-3,-2.5,-2,-1.5,-1,-.5,.5,1,1.5,2,2.5,3,3.5,4,4.5];
add2D(3,{top:70,h:626.5},.2165,3.432,[.5,1,1.5,2,2.5,3],[.5,1,1.5,2,2.5,3],bTicksY,[bBlue,bRed,bGreen,bMagenta],bBrown,66,true);
add2D(4,{top:1029,h:661},-3,3,[-3,-2,-1,1,2,3],[-3,-2,-1,1,2,3],eTicksY,[eBlue,eRed,eGreen,eMagenta],eBrown,1026,false);
add2D(5,{top:1999,h:661.6},-5,5,[-4,-2,2,4],[-4,-2,2,4],hTicksY,[hBlue,hRed,hGreen,hMagenta],hBrown,1997,false);
addContour(6,70,cEl);
addContour(7,1040,fEl);
addContour(8,1993,iEl);

// free text: panel tags and titles
const tagRich={p:{fontFamily:'"Liberation Serif",serif',fontSize:70,color:'#000'},b:{fontFamily:'"Liberation Serif",serif',fontWeight:'bold',fontSize:70,color:'#000'}};
const tag=(s,x,y)=>titles.push({text:'{p|(}{b|'+s+'}{p|)}',left:x,top:y,textAlign:'center',textStyle:{rich:tagRich}});
[['a',479,788],['b',1663,788],['c',2651,788],['d',479,1755],['e',1663,1755],['f',2651,1755],['g',479,2713],['h',1663,2713],['i',2651,2713]].forEach(a=>tag(...a));
const rich=(size,sub)=>({i:{fontFamily:FONT,fontWeight:'bold',fontStyle:'italic',fontSize:size,color:'#000'},s:{fontFamily:FONT,fontWeight:'bold',fontSize:sub,color:'#000',padding:[sub*.6,0,0,0]},n:{fontFamily:FONT,fontWeight:'bold',fontSize:size,color:'#000'}});
const ttl=(s,x,y,size,sub)=>titles.push({text:s,left:x,top:y,textAlign:'center',textStyle:{rich:rich(size,sub)}});
ttl('{n||}{i|U}{s|24}{n||}',1655,7,39,28);
ttl('{n|Re }{i|U}{s|24}',1655,965,39,28);
ttl('{n|Im }{i|U}{s|24}',1655,1935,39,28);
ttl('{n||}{i|U}{s|24}{n||}',92,246,56,40);
ttl('{n|Re }{i|U}{s|24}',105,1278,57,41);
ttl('{n|Im }{i|U}{s|24}',117,2241,57,41);

const chart=echarts.init(document.getElementById('c'),null,{width:3008,height:2801});
chart.setOption({animation:false,backgroundColor:'#fff',title:titles,grid:grids,xAxis:xAxes,yAxis:yAxes,legend:legends,series});
</script></body></html>
